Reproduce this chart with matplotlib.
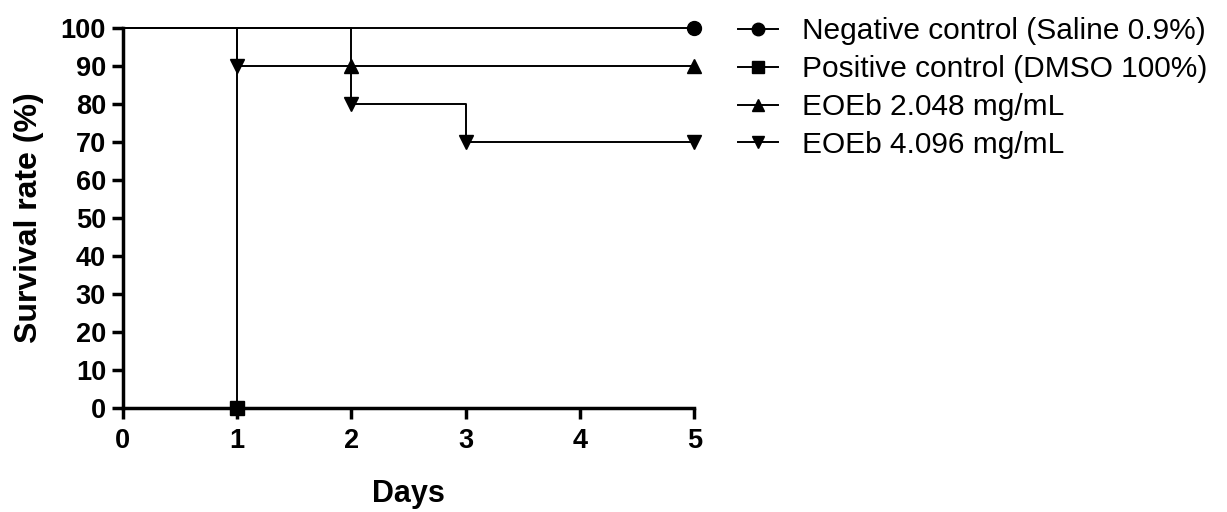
import matplotlib
matplotlib.use("Agg")
import matplotlib.pyplot as plt

plt.rcParams['font.family'] = ['Liberation Sans', 'DejaVu Sans']

# survival data (days, % alive) - step curves, markers at events / end
labels = ["Negative control (Saline 0.9%)",
          "Positive control (DMSO 100%)",
          "EOEb 2.048 mg/mL",
          "EOEb 4.096 mg/mL"]
markers = ["o", "s", "^", "v"]

neg_days = [0, 5]
neg_surv = [100, 100]
neg_mark_days = [5]
neg_mark_surv = [100]

pos_days = [0, 1]
pos_surv = [100, 0]
pos_mark_days = [1]
pos_mark_surv = [0]

eo2_days = [0, 2, 5]
eo2_surv = [100, 90, 90]
eo2_mark_days = [2, 5]
eo2_mark_surv = [90, 90]

eo4_days = [0, 1, 2, 3, 5]
eo4_surv = [100, 90, 80, 70, 70]
eo4_mark_days = [1, 2, 3, 5]
eo4_mark_surv = [90, 80, 70, 70]

x_ticks = [0, 1, 2, 3, 4, 5]
y_ticks = list(range(0, 101, 10))

series = [
    (neg_days, neg_surv, neg_mark_days, neg_mark_surv),
    (pos_days, pos_surv, pos_mark_days, pos_mark_surv),
    (eo2_days, eo2_surv, eo2_mark_days, eo2_mark_surv),
    (eo4_days, eo4_surv, eo4_mark_days, eo4_mark_surv),
]

fig = plt.figure(figsize=(12.27, 5.12), dpi=100)
ax = fig.add_axes([0.100, 0.203, 0.466, 0.742])

handles = []
for (d, s, md, ms), lab, m in zip(series, labels, markers):
    ax.step(d, s, where="post", color="black", lw=1.4, clip_on=False, zorder=2)
    ax.plot(md, ms, ls="none", marker=m, color="black", ms=10, clip_on=False, zorder=3)
    h, = ax.plot([], [], color="black", lw=1.4, marker=m, ms=9, label=lab)
    handles.append(h)

ax.set_xlim(0, 5)
ax.set_ylim(0, 100)
ax.set_xticks(x_ticks)
ax.set_yticks(y_ticks)
for side in ["top", "right"]:
    ax.spines[side].set_visible(False)
for side in ["left", "bottom"]:
    ax.spines[side].set_linewidth(2.5)
ax.tick_params(direction="out", length=8, width=2.5, labelsize=19.5, pad=4)
ax.tick_params(axis="x", pad=6)
for t in ax.get_xticklabels() + ax.get_yticklabels():
    t.set_fontweight("bold")

ax.set_xlabel("Days", fontsize=22, fontweight="bold", labelpad=18)
ax.set_ylabel("Survival rate (%)", fontsize=23, fontweight="bold", labelpad=12)

ax.legend(handles=handles, loc="upper left", bbox_to_anchor=(1.055, 1.06),
          frameon=False, fontsize=21.5, handlelength=1.35, handletextpad=0.8,
          labelspacing=0.33, borderaxespad=0)

fig.savefig("out.png", dpi=100)
